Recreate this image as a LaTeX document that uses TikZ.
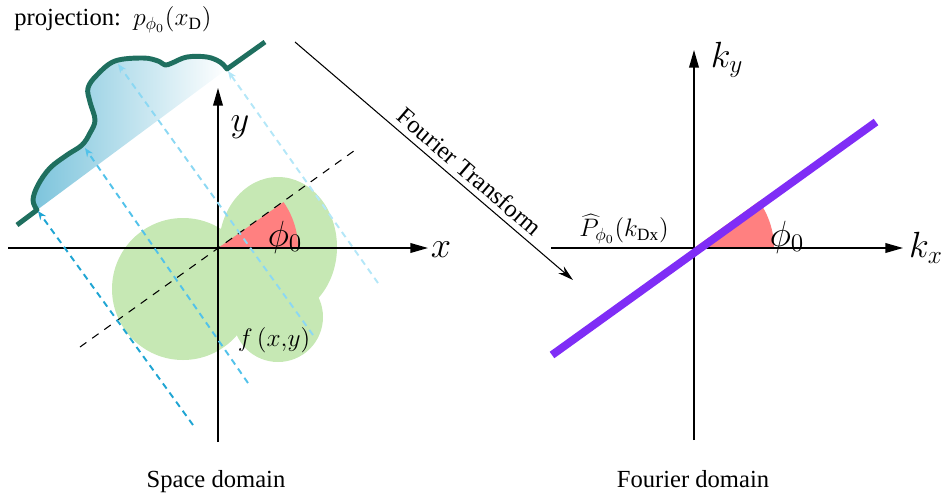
\documentclass[tikz,border=0pt]{standalone}
\usepackage{fontspec}
\setmainfont{Liberation Serif}
\usetikzlibrary{arrows.meta,positioning}
\definecolor{ftGreen}{HTML}{C6E8B4}
\definecolor{ftRed}{HTML}{FF8080}
\definecolor{ftPurple}{HTML}{7F2DF6}
\definecolor{ftTeal}{HTML}{1F6F5F}
\definecolor{ftShade}{HTML}{7CC4DC}
\definecolor{ftBlueA}{HTML}{1FA5D3}
\definecolor{ftBlueB}{HTML}{52C2EA}
\definecolor{ftBlueC}{HTML}{8CD8F3}
\definecolor{ftBlueD}{HTML}{B4E7F8}
\tikzset{
  axis/.style={line width=0.8pt,-{Triangle[length=10pt,width=5.5pt]}},
  ray/.style={line width=1.1pt,dash pattern=on 3.6pt off 2.8pt,-{Stealth[length=5pt,width=4pt]}},
  guide/.style={line width=0.6pt,dash pattern=on 4.5pt off 4pt},
  lbl/.style={font=\fontsize{14}{16}\selectfont,inner sep=1pt},
  big/.style={font=\fontsize{21}{24}\selectfont,inner sep=1pt},
}

\begin{document}
\begin{tikzpicture}[x=0.02cm,y=-0.02cm]
  \useasboundingbox (0,0) rectangle (941,498);
  % space domain
  \coordinate (o) at (218,248);
  \fill[ftGreen] (183,289) circle (71);
  \fill[ftGreen] (278,247) ellipse (59 and 70);
  \fill[ftGreen] (278,317) circle (45);
  \fill[ftRed] (o) -- ++(80,0) arc[start angle=0,end angle=-35,radius=80] -- cycle;
  \draw[axis] (8,248) -- (428,248);
  \draw[axis] (218,442) -- (218,88);
  \draw[guide] (80,347) -- (358,148);
  % projection profile
  \shade[left color=ftShade,right color=white] plot[smooth,tension=0.6] coordinates{(37,210) (33,200) (38,185) (50,168) (67,155) (82,145) (90,133) (95,120) (90,102) (88,88) (97,75) (115,61) (143,58) (158,61) (165,65) (172,63) (187,57) (207,57) (220,62) (227,69)} -- cycle;
  \draw[ftTeal,line width=2.8pt,line join=round] (17,225) -- plot[smooth,tension=0.6] coordinates{(37,210) (33,200) (38,185) (50,168) (67,155) (82,145) (90,133) (95,120) (90,102) (88,88) (97,75) (115,61) (143,58) (158,61) (165,65) (172,63) (187,57) (207,57) (220,62) (227,69)} -- (265,42);
  \draw[ray,ftBlueA] (193,425) -- (38,211);
  \draw[ray,ftBlueB] (248,383) -- (85,148);
  \draw[ray,ftBlueC] (313,335) -- (118,64);
  \draw[ray,ftBlueD] (378,283) -- (228,71);
  \node[lbl] (proj) at (113,20) {projection:\enspace$p_{\phi_0}(x_{\mathrm{D}})$};
  \node[lbl] (fxy) at (274,340) {$f\,(x{,}y)$};
  \node[big] (phiL) at (285,237) {$\phi_0$};
  \node[big] (xl) at (441,250) {$x$};
  \node[big] (yl) at (240,127) {$y$};
  \node[lbl,anchor=base] (sd) at (216,487) {Space domain};
  % transform
  \coordinate (ftA) at (295,42);
  \coordinate (ftB) at (573,280);
  \draw[line width=0.6pt,-{Stealth[length=9pt,width=5pt]}] (ftA) -- (ftB);
  \node[lbl,rotate=-40.6,anchor=base] (ftl) at (464,178) {Fourier Transform};
  % fourier domain
  \coordinate (O) at (694,248);
  \fill[ftRed] (O) -- ++(80,0) arc[start angle=0,end angle=-35.7,radius=80] -- cycle;
  \draw[axis] (551,248) -- (903,248);
  \draw[axis] (694,440) -- (694,50);
  \draw[ftPurple,line width=4.5pt] (552,355) -- (876,122);
  \node[big] (phiR) at (787,237) {$\phi_0$};
  \node[big] (kx) at (926,248) {$k_x$};
  \node[big] (ky) at (727,60) {$k_y$};
  \node[lbl] (ph) at (624,229) {$\widehat{P}_{\phi_0}(k_{\mathrm{Dx}})$};
  \node[lbl,anchor=base] (fd) at (693,487) {Fourier domain};
\end{tikzpicture}
\end{document}
